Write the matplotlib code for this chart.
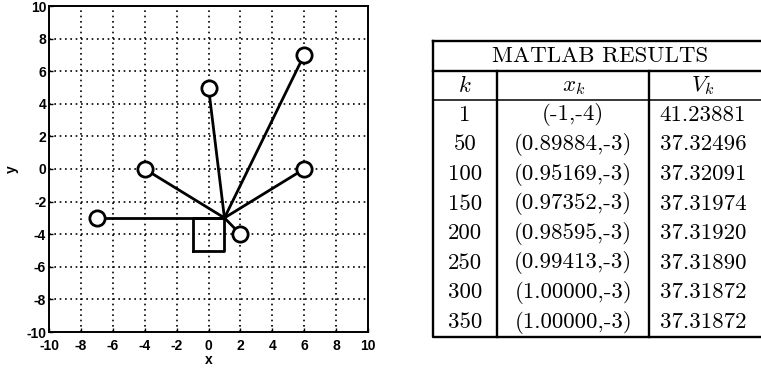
import numpy as np
import matplotlib
matplotlib.use('Agg')
import matplotlib.pyplot as plt

# sensor / beacon positions and the final estimate
hub = (1, -3)
px = [-7, -4, 0, 6, 6, 2]
py = [-3, 0, 5, 7, 0, -4]
# feasible box
box_x = [-1, 1, 1, -1, -1]
box_y = [-5, -5, -3, -3, -5]

ticks = list(range(-10, 11, 2))

# table contents
k_vals = ['1', '50', '100', '150', '200', '250', '300', '350']
x_vals = ['(-1,-4)', '(0.89884,-3)', '(0.95169,-3)', '(0.97352,-3)',
          '(0.98595,-3)', '(0.99413,-3)', '(1.00000,-3)', '(1.00000,-3)']
v_vals = ['41.23881', '37.32496', '37.32091', '37.31974',
          '37.31920', '37.31890', '37.31872', '37.31872']
col_heads = [r'$k$', r'$x_k$', r'$V_k$']
title = 'MATLAB RESULTS'

plt.rcParams['mathtext.fontset'] = 'cm'
plt.rcParams['axes.unicode_minus'] = False

fig = plt.figure(figsize=(7.61, 3.68), dpi=100)

# ---- left: the geometry plot
ax = fig.add_axes([49 / 761, 36 / 368, 319 / 761, 326 / 368])
for x, y in zip(px, py):
    ax.plot([hub[0], x], [hub[1], y], color='black', lw=2.0, zorder=2)
ax.plot(box_x, box_y, color='black', lw=2.0, zorder=2)
ax.plot(px, py, 'o', ms=11, mfc='white', mec='black', mew=2.0, zorder=3)

ax.set_xlim(-10, 10)
ax.set_ylim(-10, 10)
ax.set_xticks(ticks)
ax.set_yticks(ticks)
ax.grid(True, color='black', linestyle=(0, (1, 2.2)), lw=1.2)
ax.tick_params(direction='in', length=3, width=1, labelsize=10)
ax.tick_params(axis='x', pad=5)
ax.tick_params(axis='y', pad=2)
for lab in ax.get_xticklabels() + ax.get_yticklabels():
    lab.set_fontweight('bold')
    lab.set_family('Liberation Sans')
for s in ax.spines.values():
    s.set_linewidth(1.4)
ax.set_xlabel('x', fontsize=10, fontweight='bold', family='Liberation Sans', labelpad=0)
ax.set_ylabel('y', fontsize=10, fontweight='bold', family='Liberation Sans', labelpad=5)

# ---- right: the results table
tab = fig.add_axes([433 / 761, 31 / 368, 334 / 761, 296 / 368])
n_rows = len(k_vals) + 2
tab.set_xlim(0, 1)
tab.set_ylim(n_rows, 0)
tab.axis('off')

sep1, sep2 = 0.191, 0.648
centers = [0.096, 0.42, 0.808]
kw = dict(color='black', lw=1.7, clip_on=False)
tab.plot([0, 1, 1, 0, 0], [0, 0, n_rows, n_rows, 0], **kw)
tab.plot([0, 1], [1, 1], **kw)
tab.plot([0, 1], [2, 2], color='black', lw=1.1, clip_on=False)
tab.plot([sep1, sep1], [1, n_rows], **kw)
tab.plot([sep2, sep2], [1, n_rows], **kw)

fs = 16.5
tab.text(0.5, 0.5, title, ha='center', va='center', fontsize=fs, family='cmr10')
for c, h in zip(centers, col_heads):
    tab.text(c, 1.5, h, ha='center', va='center', fontsize=fs)
for i, (k, x, v) in enumerate(zip(k_vals, x_vals, v_vals)):
    r = i + 2.5
    tab.text(centers[0], r, k, ha='center', va='center', fontsize=fs, family='cmr10')
    tab.text(centers[1], r, x, ha='center', va='center', fontsize=fs, family='cmr10')
    tab.text(centers[2], r, v, ha='center', va='center', fontsize=fs, family='cmr10')

fig.savefig('out.png', dpi=100)
